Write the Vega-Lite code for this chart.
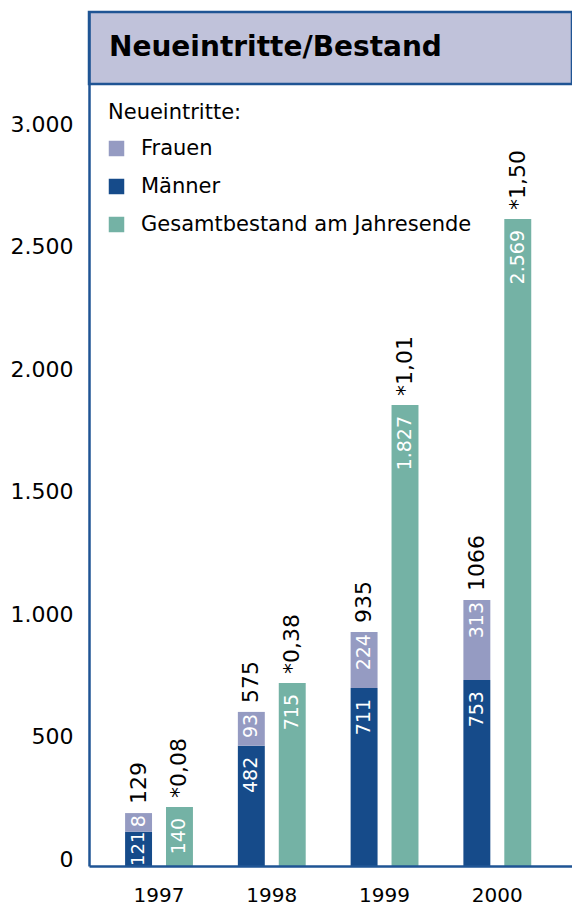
{
  "$schema": "https://vega.github.io/schema/vega-lite/v6.json",
  "autosize": "none",
  "width": 483,
  "height": 854,
  "padding": {"left": 89, "top": 12, "right": 0, "bottom": 39},
  "background": "#ffffff",
  "config": {"font": "DejaVu Sans", "view": {"stroke": null}},
  "title": {
    "text": "Neueintritte/Bestand",
    "orient": "top",
    "anchor": "start",
    "frame": "group",
    "offset": -73,
    "dx": 20,
    "fontSize": 28,
    "fontWeight": "bold",
    "color": "#000000",
    "baseline": "alphabetic"
  },
  "datasets": {
    "bars": [
      {"year": "1997", "grp": "N", "series": "Männer", "ord": 1, "value": 140, "label": "121"},
      {"year": "1997", "grp": "N", "series": "Frauen", "ord": 2, "value": 76, "label": "8", "top": "129"},
      {"year": "1997", "grp": "G", "series": "Gesamtbestand am Jahresende", "ord": 1, "value": 241, "label": "140", "top": "*0,08"},
      {"year": "1998", "grp": "N", "series": "Männer", "ord": 1, "value": 491, "label": "482"},
      {"year": "1998", "grp": "N", "series": "Frauen", "ord": 2, "value": 138, "label": "93", "top": "575"},
      {"year": "1998", "grp": "G", "series": "Gesamtbestand am Jahresende", "ord": 1, "value": 747, "label": "715", "top": "*0,38"},
      {"year": "1999", "grp": "N", "series": "Männer", "ord": 1, "value": 727, "label": "711"},
      {"year": "1999", "grp": "N", "series": "Frauen", "ord": 2, "value": 228, "label": "224", "top": "935"},
      {"year": "1999", "grp": "G", "series": "Gesamtbestand am Jahresende", "ord": 1, "value": 1882, "label": "1.827", "top": "*1,01"},
      {"year": "2000", "grp": "N", "series": "Männer", "ord": 1, "value": 759, "label": "753"},
      {"year": "2000", "grp": "N", "series": "Frauen", "ord": 2, "value": 327, "label": "313", "top": "1066"},
      {"year": "2000", "grp": "G", "series": "Gesamtbestand am Jahresende", "ord": 1, "value": 2641, "label": "2.569", "top": "*1,50"}
    ]
  },
  "layer": [
    {
      "data": {"values": [{}]},
      "mark": {"type": "rect", "fill": "#c0c2da", "stroke": "#1f5494", "strokeWidth": 2.5},
      "encoding": {
        "y": {"datum": 3192, "type": "quantitative"},
        "y2": {"datum": 3486}
      }
    },
    {
      "data": {"name": "bars"},
      "transform": [
        {"stack": "value", "groupby": ["year", "grp"], "sort": [{"field": "ord"}], "as": ["v0", "v1"]}
      ],
      "encoding": {
        "x": {
          "field": "year",
          "type": "ordinal",
          "scale": {"type": "band", "paddingInner": 0, "paddingOuter": 0.1416, "align": 0.427},
          "axis": {
            "title": null,
            "labelAngle": 0,
            "labelFontSize": 20,
            "labelPadding": 19,
            "labelColor": "#000000",
            "domainColor": "#1f5494",
            "domainWidth": 2.5,
            "ticks": false,
            "tickSize": 0,
            "zindex": 1
          }
        },
        "xOffset": {
          "field": "grp",
          "type": "nominal",
          "scale": {"domain": ["N", "G"], "paddingInner": 0.3415, "paddingOuter": 0.5488}
        }
      },
      "layer": [
        {
          "mark": {"type": "bar"},
          "encoding": {
            "y": {
              "field": "v1",
              "type": "quantitative",
              "scale": {"domain": [0, 3486], "nice": false, "zero": true},
              "axis": {
                "values": [0, 500, 1000, 1500, 2000, 2500, 3000],
                "labelExpr": "replace(format(datum.value, ','), ',', '.')",
                "labelFontSize": 22,
                "labelBaseline": "alphabetic",
                "labelPadding": 16,
                "labelColor": "#000000",
                "title": null,
                "ticks": false,
                "tickSize": 0,
                "grid": false,
                "domainColor": "#1f5494",
                "domainWidth": 2.5,
                "zindex": 1
              }
            },
            "y2": {"field": "v0"},
            "color": {
              "field": "series",
              "type": "nominal",
              "scale": {
                "domain": ["Frauen", "Männer", "Gesamtbestand am Jahresende"],
                "range": ["#959bc2", "#164b8a", "#74b2a5"]
              },
              "legend": {
                "title": "Neueintritte:",
                "orient": "none",
                "legendX": 19,
                "legendY": 90,
                "padding": 0,
                "direction": "vertical",
                "titleFontSize": 21,
                "titleFontWeight": "normal",
                "titleColor": "#000000",
                "titlePadding": 15,
                "titleLimit": 500,
                "labelFontSize": 21,
                "labelColor": "#000000",
                "labelOffset": 14,
                "labelLimit": 500,
                "symbolType": "square",
                "symbolSize": 240,
                "symbolOffset": -2,
                "symbolStrokeWidth": 0,
                "symbolOpacity": 1,
                "rowPadding": 16
              }
            }
          }
        },
        {
          "transform": [{"filter": "datum.series !== 'Frauen' && datum.value >= 200"}],
          "mark": {"type": "text", "angle": 270, "align": "right", "baseline": "middle", "dx": -11, "fontSize": 19, "color": "#ffffff"},
          "encoding": {"y": {"field": "v1", "type": "quantitative"}, "text": {"field": "label"}}
        },
        {
          "transform": [{"filter": "datum.series === 'Männer' && datum.value < 200"}],
          "mark": {"type": "text", "angle": 270, "align": "left", "baseline": "middle", "dx": 0, "fontSize": 18, "color": "#ffffff"},
          "encoding": {"y": {"field": "v0", "type": "quantitative"}, "text": {"field": "label"}}
        },
        {
          "transform": [{"filter": "datum.series === 'Frauen'"}],
          "mark": {"type": "text", "angle": 270, "align": "right", "baseline": "middle", "dx": -2, "fontSize": 19, "color": "#ffffff"},
          "encoding": {"y": {"field": "v1", "type": "quantitative"}, "text": {"field": "label"}}
        },
        {
          "transform": [{"filter": "datum.top != null"}],
          "mark": {"type": "text", "angle": 270, "align": "left", "baseline": "middle", "dx": 9, "fontSize": 22, "color": "#000000"},
          "encoding": {"y": {"field": "v1", "type": "quantitative"}, "text": {"field": "top"}}
        }
      ]
    }
  ]
}
